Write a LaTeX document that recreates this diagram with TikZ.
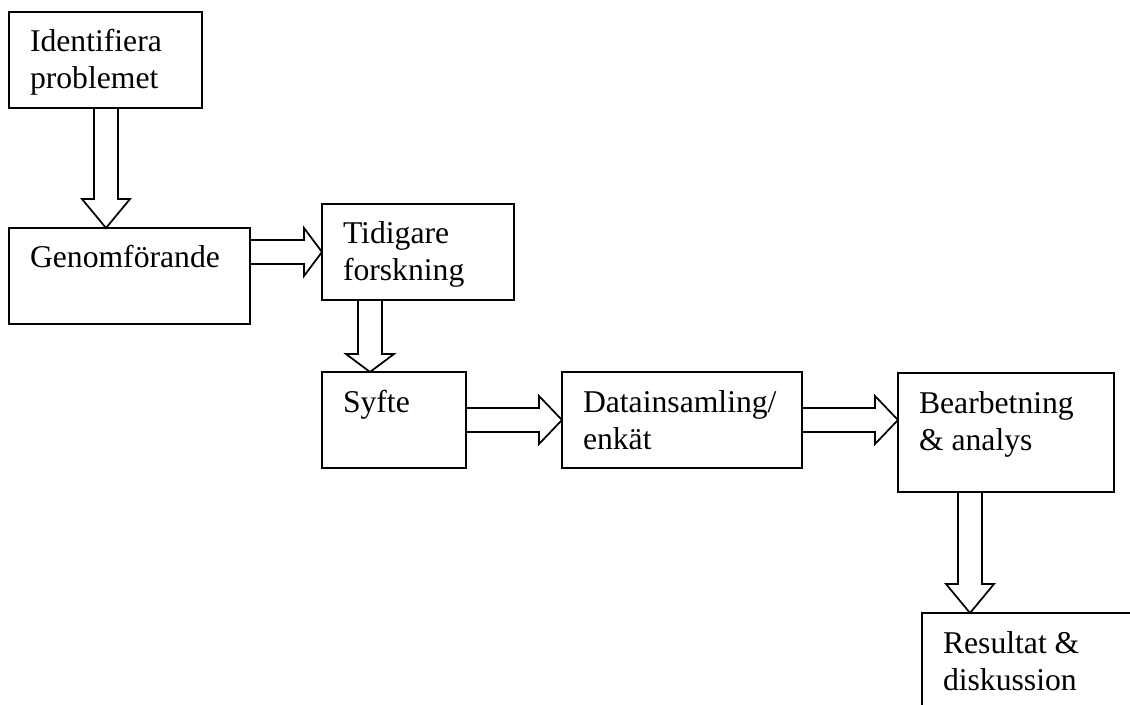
\documentclass[tikz,border=0pt]{standalone}
\usepackage{fontspec}
\setmainfont{Liberation Serif}
\usetikzlibrary{calc}
\tikzset{
  box/.style={draw, rectangle, inner sep=0pt, outer sep=0pt, line width=1.3pt},
  txt/.style={anchor=north west, inner sep=0pt, outer sep=0pt, align=left,
              font=\fontsize{23.75pt}{27.75pt}\selectfont},
  arr/.style={draw, line width=1.3pt, line join=miter}
}
% block arrow pointing down: start, end (tip), head length
\newcommand\blkdown[3]{%
  \draw[arr] let \p1=(#1), \p2=(#2) in
    (\x1-9pt,\y1) -- (\x1-9pt,\y2+#3) -- (\x1-18pt,\y2+#3) -- (\x1,\y2)
    -- (\x1+18pt,\y2+#3) -- (\x1+9pt,\y2+#3) -- (\x1+9pt,\y1);}
% block arrow pointing right: start, end (tip), head length
\newcommand\blkright[3]{%
  \draw[arr] let \p1=(#1), \p2=(#2) in
    (\x1,\y1+9pt) -- (\x2-#3,\y1+9pt) -- (\x2-#3,\y1+18pt) -- (\x2,\y1)
    -- (\x2-#3,\y1-18pt) -- (\x2-#3,\y1-9pt) -- (\x1,\y1-9pt);}
\newcommand\strt{\rule{0pt}{30pt}}
\begin{document}
\begin{tikzpicture}[x=0.75pt, y=-0.75pt]
\useasboundingbox (0,0) rectangle (1130,705);
% boxes
\node[box, minimum width=144.75pt, minimum height=72pt]   (b1) at (105.5,60)   {};
\node[box, minimum width=180.75pt, minimum height=72pt]   (b2) at (129.5,276)  {};
\node[box, minimum width=144pt,    minimum height=72pt]   (b3) at (418,252)    {};
\node[box, minimum width=108pt,    minimum height=72pt]   (b4) at (394,420)    {};
\node[box, minimum width=180pt,    minimum height=72pt]   (b5) at (682,420)    {};
\node[box, minimum width=162pt,    minimum height=89.25pt](b6) at (1006,432.5) {};
\node[box, minimum width=167.25pt, minimum height=80.25pt](b7) at (1033.5,666.5) {};
% texts
\node[txt] (t1) at ($(b1.north west)+(21,0)$) {\strt Identifiera\\problemet};
\node[txt] (t2) at ($(b2.north west)+(21,0)$) {\strt Genomförande};
\node[txt] (t3) at ($(b3.north west)+(21,0)$) {\strt Tidigare\\forskning};
\node[txt] (t4) at ($(b4.north west)+(21,0)$) {\strt Syfte};
\node[txt] (t5) at ($(b5.north west)+(21,0)$) {\strt Datainsamling/\\enkät};
\node[txt] (t6) at ($(b6.north west)+(21,0)$) {\strt Bearbetning\\\& analys};
\node[txt] (t7) at ($(b7.north west)+(21,0)$) {\strt Resultat \&\\diskussion};
% connector anchor points
\coordinate (a1s) at ($(b1.south west)+(97,0)$);
\coordinate (a1e) at (a1s |- b2.north);
\coordinate (a2s) at (b2.east |- b3.west);
\coordinate (a3s) at ($(b4.north west)+(48,0)$);
\coordinate (a3t) at (a3s |- b3.south);
\coordinate (a3e) at (a3s |- b4.north);
\coordinate (a5e) at (b5.east -| b6.west);
\coordinate (a6s) at ($(b6.south west)+(72,0)$);
\coordinate (a6e) at (a6s |- b7.north);
% block arrows
\blkdown{a1s}{a1e}{21.75pt}
\blkright{a2s}{b3.west}{13.5pt}
\blkdown{a3t}{a3e}{13.5pt}
\blkright{b4.east}{b5.west}{17.25pt}
\blkright{b5.east}{a5e}{17.25pt}
\blkdown{a6s}{a6e}{21.75pt}
\end{tikzpicture}
\end{document}
